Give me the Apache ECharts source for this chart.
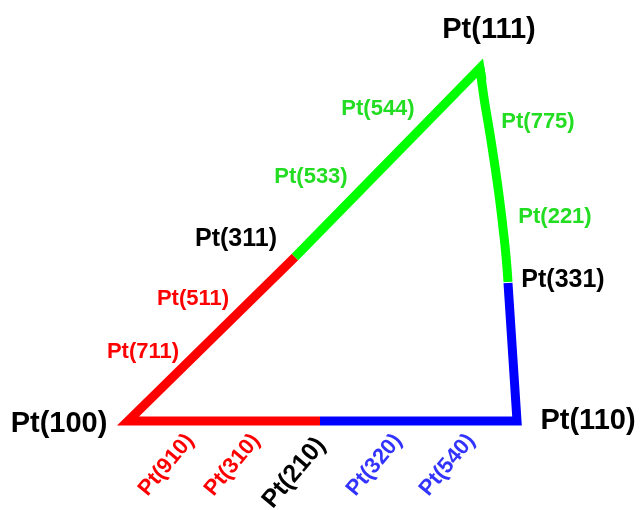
<!DOCTYPE html>
<html><head><meta charset="utf-8">
<script src="https://cdn.jsdelivr.net/npm/echarts@6/dist/echarts.min.js"></script>
<style>html,body{margin:0;padding:0;background:#fff}#c{width:641px;height:510px}</style>
</head><body><div id="c"></div>
<script>
// Projected positions (plot units) of the poles along the triangle edges
const redEdge    = [[295,257],[128,421],[320,421]];            // 311 -> 100 -> 210
const blueEdge   = [[320,421],[517,421],[508,283]];            // 210 -> 110 -> 331
const greenEdge  = [[295,257],[480,68],[482,80]];              // 311 -> 111
const greenArc   = [[480,68],[484,98],[489,128],[494,160],[499,195],[503,228],[506,256],[508,282]]; // 111 -> 331

const cornerNames = ['Pt(100)','Pt(110)','Pt(111)'];
const cornerPos   = [[59,424],[588,421],[489,30]];
const blackNames  = ['Pt(311)','Pt(331)'];
const blackPos    = [[236,239],[563,280]];
const redNames    = ['Pt(711)','Pt(511)'];
const redPos      = [[143,352],[193,299]];
const greenNames  = ['Pt(533)','Pt(544)','Pt(775)','Pt(221)'];
const greenPos    = [[311,177],[378,109],[538,122],[555,217]];
const bottomNames = ['Pt(910)','Pt(310)','Pt(210)','Pt(320)','Pt(540)'];
const bottomPos   = [[190,437],[256,437],[321,441],[398,437],[471,437]];
const bottomColors= ['#ff0000','#ff0000','#000000','#3333ff','#3333ff'];

const FONT = 'Liberation Sans, Arial, sans-serif';
function lineSeries(data, color, smooth){
  return {type:'line', data:data, symbol:'none', silent:true, smooth:smooth||false,
    lineStyle:{color:color, width:9, join:'miter', cap:'butt', opacity:1}, z:2};
}
const baseLabel = {show:true, position:'inside', formatter:'{b}', fontFamily:FONT,
  fontWeight:'bold', textBorderWidth:0, textBorderColor:'transparent', opacity:1};
function labelSeries(names, pos, color, size){
  return {type:'scatter', symbolSize:0, silent:true, z:5, itemStyle:{opacity:1},
    data: pos.map((p,i)=>({value:p, name:names[i]})),
    label:Object.assign({}, baseLabel, {color:color, fontSize:size, align:'center', verticalAlign:'middle'})};
}
const bottomSeries = {type:'scatter', symbolSize:0, silent:true, z:5, itemStyle:{opacity:1},
  data: bottomPos.map((p,i)=>({value:p, name:bottomNames[i],
    label:{color:bottomColors[i], fontSize: i===2 ? 25 : 22}})),
  label:Object.assign({}, baseLabel, {rotate:50, align:'right', verticalAlign:'middle'})};

const chart = echarts.init(document.getElementById('c'), null, {renderer:'canvas'});
chart.setOption({
  animation:false,
  backgroundColor:'#fff',
  grid:{left:0,right:0,top:0,bottom:0},
  xAxis:{type:'value',min:0,max:641,show:false},
  yAxis:{type:'value',min:0,max:510,inverse:true,show:false},
  series:[
    lineSeries(redEdge,'#ff0000'),
    lineSeries(blueEdge,'#0000ff'),
    lineSeries(greenEdge,'#00ff00'),
    lineSeries(greenArc,'#00ff00',0.5),
    labelSeries(cornerNames,cornerPos,'#000000',29),
    labelSeries(blackNames,blackPos,'#000000',25),
    labelSeries(redNames,redPos,'#ff0000',22),
    labelSeries(greenNames,greenPos,'#22dd22',22),
    bottomSeries
  ]
});
</script></body></html>
